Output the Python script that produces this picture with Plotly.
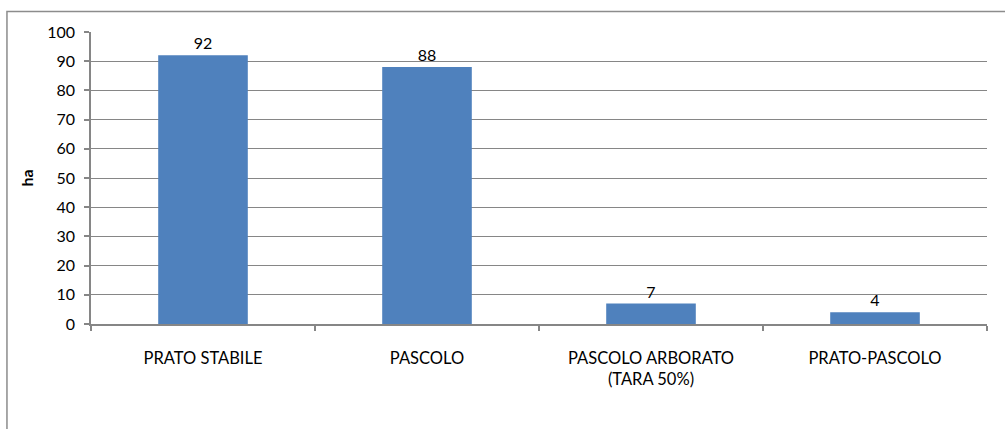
import plotly.graph_objects as go

# Superficie per tipologia di coltura foraggera
categorie = ["PRATO STABILE", "PASCOLO", "PASCOLO ARBORATO<br>(TARA 50%)", "PRATO-PASCOLO"]
ettari = [92, 88, 7, 4]
y_ticks = [0, 10, 20, 30, 40, 50, 60, 70, 80, 90, 100]

FONT = "Lato, 'Open Sans', sans-serif"
GRID = "#868686"
BORDER = "#8c8c8c"

fig = go.Figure(
    go.Bar(
        x=categorie,
        y=ettari,
        text=[str(v) for v in ettari],
        textposition="outside",
        textfont=dict(family=FONT, size=16, color="#000000"),
        marker=dict(color="#4F81BD", line=dict(width=0)),
        width=0.4,
        cliponaxis=False,
        hoverinfo="skip",
    )
)

fig.update_layout(
    width=1005,
    height=429,
    margin=dict(l=91, r=18, t=32, b=105),
    paper_bgcolor="#ffffff",
    plot_bgcolor="#ffffff",
    showlegend=False,
    font=dict(family=FONT, size=16, color="#000000"),
    xaxis=dict(
        showline=True,
        linecolor=GRID,
        linewidth=1.5,
        ticks="outside",
        tickson="boundaries",
        ticklen=5,
        tickcolor=GRID,
        tickwidth=1.5,
        ticklabelstandoff=18,
        showgrid=False,
        tickfont=dict(family=FONT, size=16.5),
    ),
    yaxis=dict(
        range=[0, 100],
        tickvals=y_ticks,
        showline=True,
        linecolor=GRID,
        linewidth=1.5,
        ticks="outside",
        ticklen=5,
        tickcolor=GRID,
        tickwidth=1.5,
        showgrid=True,
        gridcolor=GRID,
        gridwidth=1,
        zeroline=False,
        ticklabelstandoff=6,
        tickfont=dict(family=FONT, size=16),
        title=dict(text="<b>ha</b>", font=dict(family=FONT, size=16), standoff=10),
    ),
    # chart-area frame; its right and bottom edges lie past the page edge
    shapes=[
        dict(
            type="rect",
            xref="paper",
            yref="paper",
            x0=-0.0938,
            x1=1.05,
            y0=-0.40,
            y1=1.0702,
            line=dict(color=BORDER, width=1.5),
            fillcolor="rgba(0,0,0,0)",
            layer="above",
        )
    ],
)

fig.write_html("out.html", config={"displayModeBar": False})
